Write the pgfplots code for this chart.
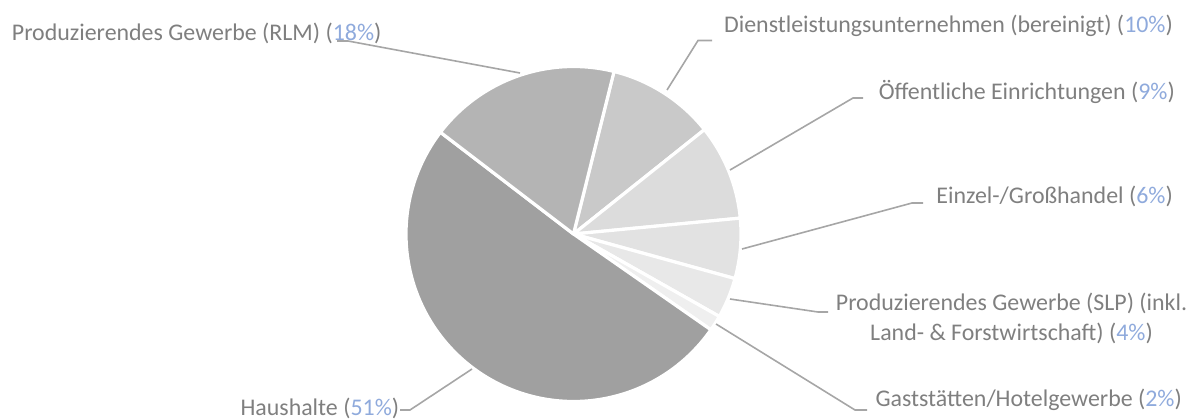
\documentclass[border=0pt]{standalone}
\usepackage{pgfplots}
\pgfplotsset{compat=1.18}
\usepackage{fontspec}
\setmainfont{Carlito}
\definecolor{txt}{HTML}{7F7F7F}
\definecolor{pct}{HTML}{8FAADC}
\definecolor{lead}{HTML}{A6A6A6}
\definecolor{cHaus}{HTML}{A0A0A0}
\definecolor{cRLM}{HTML}{B4B4B4}
\definecolor{cDienst}{HTML}{C9C9C9}
\definecolor{cOeff}{HTML}{DCDCDC}
\definecolor{cEinzel}{HTML}{E2E2E2}
\definecolor{cSLP}{HTML}{E8E8E8}
\definecolor{cGast}{HTML}{EFEFEF}
% slice values (percent), clockwise from the first slice
\def\vDienst{10.4}
\def\vOeff{9.2}
\def\vEinzel{5.8}
\def\vSLP{3.9}
\def\vGast{1.5}
\def\vHaus{50.7}
\def\vRLM{18.5}
\def\startangle{76}
\def\cx{573.5}
\def\cy{234}
\def\rr{167.5}
\pgfmathsetmacro\aA{\startangle}
\pgfmathsetmacro\aB{\aA-3.6*\vDienst}
\pgfmathsetmacro\aC{\aB-3.6*\vOeff}
\pgfmathsetmacro\aD{\aC-3.6*\vEinzel}
\pgfmathsetmacro\aE{\aD-3.6*\vSLP}
\pgfmathsetmacro\aF{\aE-3.6*\vGast}
\pgfmathsetmacro\aG{\aF-3.6*\vHaus}
\pgfmathsetmacro\aH{\aG-3.6*\vRLM}
\newcommand{\p}[1]{(\textcolor{pct}{#1\%})}
\begin{document}
\begin{tikzpicture}[lbl/.style={font=\fontsize{23.9bp}{30bp}\selectfont, text=txt, inner sep=0pt}]
\useasboundingbox (0,0) rectangle (1203bp,420bp);
\begin{axis}[
  scale only axis, width=1203bp, height=420bp,
  xmin=0, xmax=1203, ymin=0, ymax=420, y dir=reverse,
  hide axis, clip=false,
  wedge/.style={draw=white, line width=3.2bp, line join=round, samples=120, variable=\t},
]
\addplot[wedge, fill=cDienst, domain=\aB:\aA] ({\cx+\rr*cos(\t)},{\cy-\rr*sin(\t)}) -- (axis cs:\cx,\cy) -- cycle;
\addplot[wedge, fill=cOeff, domain=\aC:\aB] ({\cx+\rr*cos(\t)},{\cy-\rr*sin(\t)}) -- (axis cs:\cx,\cy) -- cycle;
\addplot[wedge, fill=cEinzel, domain=\aD:\aC] ({\cx+\rr*cos(\t)},{\cy-\rr*sin(\t)}) -- (axis cs:\cx,\cy) -- cycle;
\addplot[wedge, fill=cSLP, domain=\aE:\aD] ({\cx+\rr*cos(\t)},{\cy-\rr*sin(\t)}) -- (axis cs:\cx,\cy) -- cycle;
\addplot[wedge, fill=cGast, domain=\aF:\aE] ({\cx+\rr*cos(\t)},{\cy-\rr*sin(\t)}) -- (axis cs:\cx,\cy) -- cycle;
\addplot[wedge, fill=cHaus, domain=\aG:\aF] ({\cx+\rr*cos(\t)},{\cy-\rr*sin(\t)}) -- (axis cs:\cx,\cy) -- cycle;
\addplot[wedge, fill=cRLM, domain=\aH:\aG] ({\cx+\rr*cos(\t)},{\cy-\rr*sin(\t)}) -- (axis cs:\cx,\cy) -- cycle;
% leader lines
\addplot[lead, line width=1.6bp, mark=none] coordinates {(337,41) (348,41) (520,73)};
\addplot[lead, line width=1.6bp, mark=none] coordinates {(712,40.5) (698,40.5) (667,90)};
\addplot[lead, line width=1.6bp, mark=none] coordinates {(863,98) (853,98) (730,170)};
\addplot[lead, line width=1.6bp, mark=none] coordinates {(923,203) (912,203) (742,249)};
\addplot[lead, line width=1.6bp, mark=none] coordinates {(828,312) (818,312) (730,299)};
\addplot[lead, line width=1.6bp, mark=none] coordinates {(867,410) (855,410) (716,324)};
\addplot[lead, line width=1.6bp, mark=none] coordinates {(400,410) (410,410) (472,369)};
% labels
\node[lbl, anchor=base west] at (axis cs:11.7,40.7) {Produzierendes Gewerbe (RLM) \p{18}};
\node[lbl, anchor=base east] at (axis cs:1173,32.7) {Dienstleistungsunternehmen (bereinigt) \p{10}};
\node[lbl, anchor=base east] at (axis cs:1175,99.3) {Öffentliche Einrichtungen \p{9}};
\node[lbl, anchor=base east] at (axis cs:1173,203.3) {Einzel-/Großhandel \p{6}};
\node[lbl, anchor=base] at (axis cs:1011.5,310) {Produzierendes Gewerbe (SLP) (inkl.};
\node[lbl, anchor=base] at (axis cs:1011.5,340) {Land- \& Forstwirtschaft) \p{4}};
\node[lbl, anchor=base east] at (axis cs:1182,406.7) {Gaststätten/Hotelgewerbe \p{2}};
\node[lbl, anchor=base east] at (axis cs:399.3,415) {Haushalte \p{51}};
\end{axis}
\end{tikzpicture}
\end{document}
